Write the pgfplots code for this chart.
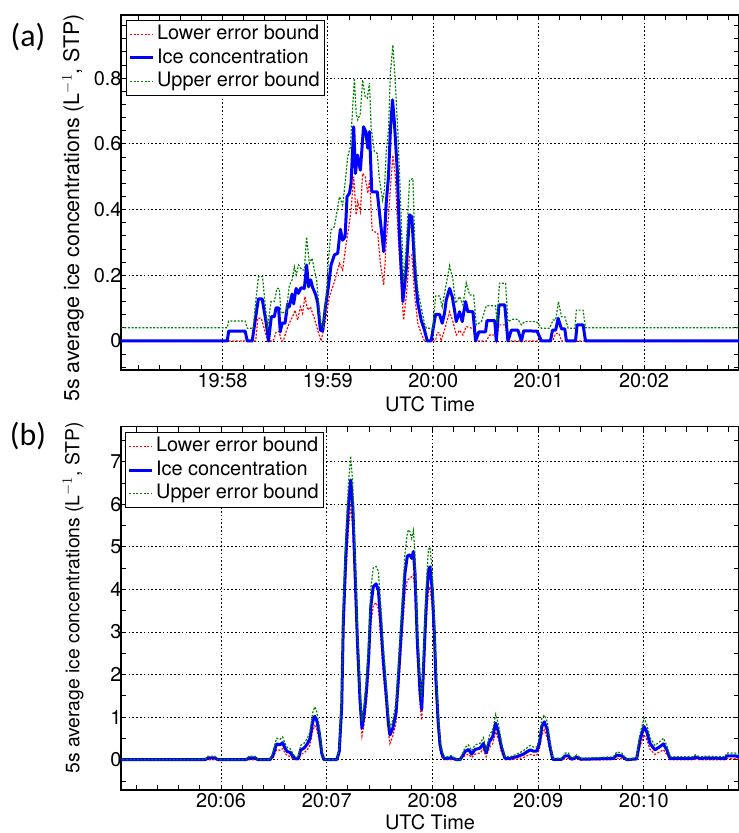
\documentclass[border=0pt]{standalone}
\usepackage{pgfplots}
\pgfplotsset{compat=1.18}
\usepackage{pgfplotstable}
\usepackage{fontspec}
\setmainfont{TeX Gyre Heros}
\newfontfamily\carlito{Carlito}
\definecolor{mgreen}{RGB}{0,128,0}

% Panel (a): seconds after 19:57:00
\pgfplotstableread{
t v
0 0
62.7 0
63.5 0.03
72.9 0.03
74.1 0
76.9 0
80.4 0.128
82.6 0.128
84.9 0.054
86.2 0
87.8 0.074
89.5 0.074
90.5 0.101
91.9 0.101
92.9 0.028
93.9 0.054
95.6 0.054
97.1 0.113
98.0 0.104
99.6 0.143
100.5 0.113
101.9 0.160
103.2 0.145
104.7 0.162
106.6 0.160
107.9 0.231
109.0 0.165
110.2 0.186
111.3 0.163
112.9 0.143
114.2 0.117
115.7 0.033
117.0 0.030
118.6 0.104
119.9 0.150
121.8 0.231
123.7 0.262
125.6 0.267
127.1 0.340
128.4 0.307
129.8 0.317
130.9 0.439
132.3 0.450
133.2 0.480
134.7 0.652
135.7 0.510
136.8 0.566
138.5 0.520
140.3 0.652
141.6 0.637
142.7 0.587
143.7 0.637
145.0 0.454
148.1 0.454
149.4 0.389
151.8 0.272
153.2 0.419
154.5 0.500
155.6 0.642
156.8 0.734
157.9 0.663
159.5 0.520
160.8 0.317
162.7 0.120
164.6 0.216
166.5 0.384
167.8 0.378
169.7 0.201
171.2 0.115
173.1 0.064
175.0 0.033
176.6 0
178.8 0
179.8 0.033
181.3 0.081
183.6 0.081
185.1 0.054
186.4 0.084
187.4 0.125
189.3 0.160
190.8 0.135
192.1 0.094
193.1 0.059
195.0 0.089
196.5 0.059
198.4 0.120
199.7 0.089
202.6 0.089
204.1 0
206.0 0.028
209.8 0.028
210.6 0.062
215.0 0.062
215.9 0
217.4 0.110
220.7 0.110
222.5 0
224.5 0.033
228.2 0.033
230.2 0
231.5 0.031
239.1 0.030
241.6 0
246.7 0
247.9 0.033
249.7 0.033
251.1 0.069
253.0 0.037
254.9 0.037
255.8 0
261.0 0
261.9 0.049
265.3 0.049
266.7 0
360 0
}\aConc

\pgfplotstableread{
t v
0 0
78.9 0
80.1 0.069
82.1 0.069
85.7 0
88.9 0
90.6 0.028
92.3 0.028
93.5 0
94.6 0
96.2 0.028
98.0 0.054
99.9 0.074
101.3 0.094
102.8 0.064
104.3 0.104
105.6 0.084
106.9 0.135
108.5 0.094
110.0 0.104
112.3 0.069
114.2 0.033
116.1 0
118.0 0.044
120.9 0.135
123.7 0.180
126.6 0.236
128.4 0.216
130.4 0.297
131.7 0.338
133.2 0.399
134.7 0.500
136.1 0.384
137.0 0.424
138.5 0.394
139.8 0.510
141.2 0.500
142.7 0.450
143.8 0.490
145.2 0.338
146.5 0.333
148.4 0.328
149.9 0.236
151.8 0.170
153.2 0.297
154.5 0.378
156.0 0.495
157.0 0.566
158.3 0.510
159.8 0.338
161.3 0.206
163.1 0.064
164.6 0.135
166.5 0.257
167.8 0.262
169.3 0.145
171.2 0.054
173.1 0.023
175.0 0
181.3 0
182.2 0.025
183.6 0.025
184.5 0
186.4 0.033
189.3 0.089
191.2 0.059
193.1 0.018
195.0 0.033
196.9 0.018
198.8 0.044
203.0 0.037
204.5 0
210.2 0
212.1 0.018
215.0 0.018
215.9 0
217.4 0.049
221.2 0.049
222.5 0
248.0 0
249.7 0.023
251.6 0.023
253.0 0
360 0
}\aLow

\pgfplotstableread{
t v
0 0.04
62.7 0.04
63.5 0.061
72.9 0.061
74.1 0.039
77.5 0.039
79.0 0.125
80.5 0.196
82.8 0.196
84.4 0.104
85.7 0.044
87.6 0.120
89.5 0.120
91.0 0.160
92.3 0.160
93.3 0.084
94.6 0.087
96.3 0.087
98.0 0.167
99.6 0.186
100.9 0.226
101.9 0.201
103.3 0.231
105.3 0.216
106.6 0.216
107.9 0.317
109.4 0.236
111.0 0.252
112.3 0.216
113.6 0.186
114.7 0.115
116.1 0.054
117.4 0.044
119.0 0.135
120.3 0.245
121.8 0.338
123.7 0.348
126.6 0.439
128.4 0.414
129.8 0.480
131.3 0.561
132.8 0.591
135.1 0.800
136.1 0.693
137.0 0.673
138.5 0.693
139.8 0.795
141.2 0.744
142.4 0.739
143.7 0.785
144.6 0.652
146.5 0.576
148.1 0.571
149.4 0.490
151.2 0.429
152.2 0.460
153.2 0.576
154.5 0.642
155.6 0.815
157.0 0.901
158.3 0.795
159.8 0.642
161.3 0.439
163.1 0.176
164.6 0.287
166.5 0.490
168.4 0.495
169.7 0.257
171.2 0.155
173.1 0.104
175.0 0.054
176.1 0.039
179.8 0.039
181.3 0.137
183.6 0.137
185.1 0.104
186.4 0.145
189.3 0.229
191.2 0.186
192.7 0.115
195.0 0.135
196.9 0.110
198.8 0.177
200.7 0.140
203.0 0.140
204.5 0.049
207.4 0.059
210.2 0.107
215.5 0.107
216.3 0.054
217.7 0.176
221.2 0.176
222.5 0.059
225.4 0.066
228.2 0.066
230.2 0.049
232.1 0.059
238.7 0.059
241.6 0.039
246.3 0.039
248.2 0.064
249.7 0.064
251.3 0.120
253.0 0.074
254.9 0.074
256.8 0.039
260.6 0.039
261.5 0.094
265.3 0.094
266.7 0.040
360 0.040
}\aUp

% Panel (b): seconds after 20:05:00
\pgfplotstableread{
t c lo up
0 0 0 0
50.9 0 0 0
52.6 0.04 0 0.084
56.6 0.04 0 0.084
58.3 0 0 0
74.2 0 0 0
75.9 0.04 0 0.084
79.3 0.04 0 0.084
81.0 0 0 0
87.8 0 0 0
89.5 0.10 0.03 0.17
90.7 0.27 0.156 0.384
91.6 0.37 0.236 0.504
93.5 0.35 0.22 0.48
95.0 0.40 0.261 0.539
96.3 0.27 0.156 0.384
97.6 0.19 0.094 0.286
99.2 0.17 0.079 0.261
101.0 0.07 0.012 0.128
102.6 0.02 0 0.051
103.9 0.03 0 0.068
105.2 0.23 0.124 0.336
107.1 0.27 0.156 0.384
109.0 0.37 0.236 0.504
110.5 0.50 0.344 0.656
112.0 0.89 0.682 1.098
113.2 1.02 0.798 1.242
114.3 0.93 0.718 1.142
115.8 0.62 0.447 0.793
117.2 0.15 0.065 0.235
118.5 0 0 0
125.7 0 0 0
127.1 0.19 0.094 0.286
128.5 1.25 1.004 1.496
129.4 3.20 2.806 3.594
130.8 4.77 4.29 5.25
132.3 5.94 5.404 6.476
133.6 6.57 6.0 7.13
134.8 5.94 5.404 6.476
136.1 4.38 3.92 4.84
137.4 2.81 2.441 3.179
138.9 1.40 1.14 1.66
140.0 0.74 0.56 0.90
141.3 1.09 0.86 1.32
142.7 1.71 1.422 1.998
143.8 2.42 2.078 2.762
145.0 3.59 3.173 4.007
146.4 4.06 3.617 4.503
148.0 4.13 3.69 4.54
149.3 3.99 3.551 4.429
150.6 3.28 2.882 3.678
152.1 2.34 2.003 2.677
153.7 1.56 1.285 1.835
155.0 0.86 0.656 1.064
155.9 0.58 0.38 0.75
157.5 0.74 0.55 0.93
159.3 1.09 0.86 1.32
160.6 1.87 1.569 2.171
162.6 3.20 2.806 3.594
164.4 4.38 3.92 4.84
165.7 4.77 4.20 5.30
166.3 4.80 4.24 5.40
167.3 4.81 4.26 5.35
168.2 4.73 4.30 5.20
169.2 4.89 4.35 5.38
170.1 4.38 3.92 4.84
171.4 2.81 2.441 3.179
173.0 1.56 1.285 1.835
173.9 1.18 0.93 1.42
174.8 2.03 1.717 2.343
176.4 3.59 3.173 4.007
177.7 4.46 3.995 4.925
178.6 4.53 4.062 4.998
179.9 3.99 3.551 4.429
181.1 2.97 2.591 3.349
182.0 1.87 1.569 2.171
183.3 0.86 0.656 1.064
184.3 0.35 0.22 0.48
185.3 0.15 0.065 0.235
186.6 0.03 0 0.068
189.0 0.03 0 0.068
190.5 0.05 0.001 0.099
193.8 0 0 0
195.7 0 0 0
198.5 0.19 0.094 0.286
200.4 0.24 0.132 0.348
202.3 0.13 0.051 0.209
204.2 0.24 0.132 0.348
207.0 0.27 0.156 0.384
208.9 0.38 0.244 0.516
210.5 0.16 0.072 0.248
212.3 0.42 0.277 0.563
214.2 0.54 0.378 0.702
215.9 0.86 0.656 1.064
217.4 0.66 0.481 0.839
219.3 0.27 0.156 0.384
221.2 0.03 0 0.068
224.0 0.03 0 0.068
227.8 0.07 0.012 0.128
231.6 0.13 0.051 0.209
235.4 0.23 0.124 0.336
237.3 0.20 0.102 0.298
239.2 0.20 0.102 0.298
240.7 0.38 0.244 0.516
242.1 0.78 0.586 0.974
243.5 0.89 0.70 1.05
245.2 0.70 0.516 0.884
246.7 0.31 0.188 0.432
248.3 0.01 0 0.032
253.4 0.01 0 0.032
255.3 0.09 0.024 0.156
257.1 0.09 0.024 0.156
259.1 0.01 0 0.032
261.9 0.06 0.006 0.114
264.3 0.01 0 0.032
282.7 0.03 0 0.068
284.6 0.11 0.037 0.183
287.4 0.09 0.024 0.156
290.3 0 0 0
295.9 0.02 0 0.051
297.8 0.46 0.311 0.609
300.1 0.78 0.586 0.974
301.6 0.66 0.481 0.839
303.5 0.38 0.244 0.516
306.3 0.23 0.124 0.336
309.2 0.31 0.188 0.432
311.1 0.37 0.236 0.504
313.0 0.23 0.124 0.336
314.9 0.03 0 0.068
328.1 0.03 0 0.068
329.1 0.06 0.006 0.114
331.9 0.03 0 0.068
335.7 0.04 0 0.084
346.1 0.03 0 0.068
347.0 0.09 0.024 0.156
351.8 0.09 0.024 0.156
353.6 0.07 0.012 0.128
360 0.08 0.018 0.142
}\bData

\pgfplotsset{
  panel/.style={
    scale only axis, width=618bp, anchor=south west,
    axis line style={line width=1.2bp},
    tick style={black, line width=0.9bp},
    major tick length=5bp, minor tick length=5bp,
    tick align=inside,
    grid=major,
    major grid style={black, line width=0.8bp, dash pattern=on 1.6bp off 2.2bp},
    ticklabel style={font=\fontsize{20}{24}\selectfont},
    yticklabel style={xshift=4bp},
    xlabel={UTC Time},
    xlabel style={font=\fontsize{20}{24}\selectfont, at={(rel axis cs:0.5,0)}, anchor=north, inner sep=0pt, yshift=-26bp},
    legend cell align=left,
    legend style={font=\fontsize{20}{24}\selectfont, draw=black, line width=1.2bp, fill=white,
      inner xsep=2bp, inner ysep=2bp,
      nodes={inner sep=2.4bp, text height=14.5bp, text depth=4.3bp}},
    legend image code/.code={\draw[##1] (0bp,0bp) -- (23bp,0bp);},
    lowstyle/.style={color=red, line width=1.2bp, dash pattern=on 2bp off 1.6bp},
    concstyle/.style={color=blue, line width=3bp, line join=round},
    upstyle/.style={color=mgreen, line width=1.2bp, dash pattern=on 2bp off 1.6bp},
  }
}

\begin{document}
\begin{tikzpicture}[x=1bp,y=1bp]
\path[use as bounding box] (0,0) rectangle (739,833);

% Panel (a)
\begin{axis}[panel, at={(121bp,463bp)}, height=355bp,
  xmin=2.2, xmax=354.1, ymin=-0.0883, ymax=0.9924,
  xtick={60,120,180,240,300}, xticklabels={19:58,19:59,20:00,20:01,20:02},
  minor xtick={0,12,...,360},
  ytick={0,0.2,0.4,0.6,0.8}, yticklabels={0,0.2,0.4,0.6,0.8},
  minor ytick={-0.08,-0.04,0.04,0.08,0.12,0.16,0.24,0.28,0.32,0.36,0.44,0.48,0.52,0.56,0.64,0.68,0.72,0.76,0.84,0.88,0.92,0.96},
  legend style={at={(0.0081,0.986)}, anchor=north west},
]
\addplot[lowstyle] table[x=t,y=v] {\aLow};
\addlegendentry{Lower error bound}
\addplot[concstyle] table[x=t,y=v] {\aConc};
\addlegendentry{Ice concentration}
\addplot[upstyle] table[x=t,y=v] {\aUp};
\addlegendentry{Upper error bound}
\end{axis}

% Panel (b)
\begin{axis}[panel, at={(121bp,43bp)}, height=363.3bp,
  xmin=3.24, xmax=354.0, ymin=-0.712, ymax=7.822,
  xtick={60,120,180,240,300}, xticklabels={20:06,20:07,20:08,20:09,20:10},
  minor xtick={0,12,...,360},
  ytick={0,1,2,3,4,5,6,7}, yticklabels={0,1,2,3,4,5,6,7},
  minor ytick={-0.5,0.5,1.5,2.5,3.5,4.5,5.5,6.5,7.5},
  legend style={at={(0.0065,0.985)}, anchor=north west},
  xlabel style={yshift=2bp},
]
\addplot[lowstyle] table[x=t,y=lo] {\bData};
\addlegendentry{Lower error bound}
\addplot[concstyle] table[x=t,y=c] {\bData};
\addlegendentry{Ice concentration}
\addplot[upstyle] table[x=t,y=up] {\bData};
\addlegendentry{Upper error bound}
\end{axis}

% y labels and panel tags
\node[rotate=90, font=\fontsize{21.5}{25}\selectfont, inner sep=0pt] at (73,625) {5s average ice concentrations (L$^{-1}$, STP)};
\node[rotate=90, font=\fontsize{19.4}{23}\selectfont, inner sep=0pt] at (73,235) {5s average ice concentrations (L$^{-1}$, STP)};
\node[font=\carlito\fontsize{32}{36}\selectfont, inner sep=0pt] at (28,796) {(a)};
\node[font=\carlito\fontsize{32}{36}\selectfont, inner sep=0pt] at (28,397) {(b)};
\end{tikzpicture}
\end{document}
